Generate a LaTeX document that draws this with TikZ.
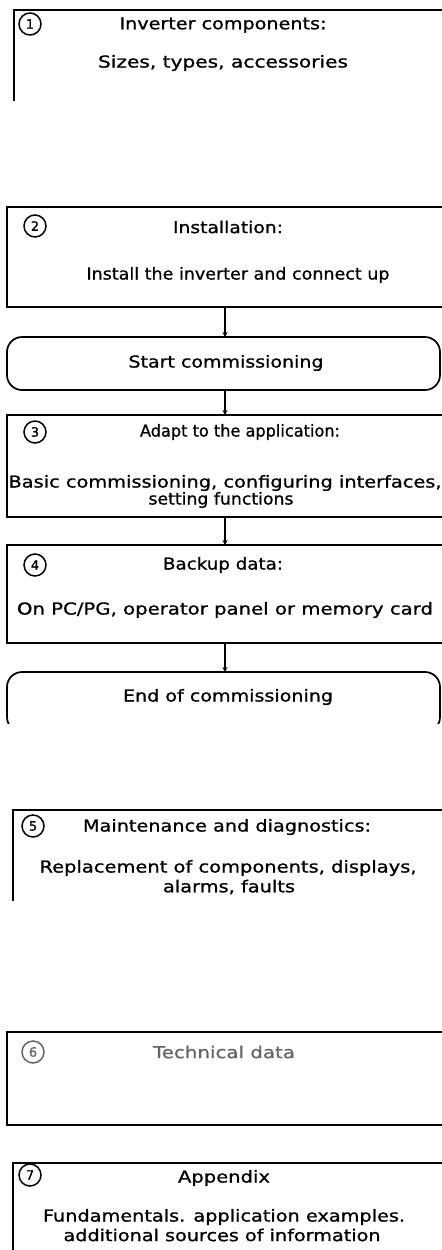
\documentclass[tikz,border=0pt]{standalone}
\usepackage{fontspec}
\setmainfont{DejaVu Sans}[FakeBold=0.9]
\usepackage{graphicx}
\usetikzlibrary{arrows.meta}
% stretch or squeeze a line of text to a given width (in bp), keeping its height
\newcommand\fitw[2]{\resizebox{#1bp}{\height}{#2}}
\begin{document}
\begin{tikzpicture}[x=1bp,y=-1bp,
  frame/.style={draw,line width=1.7bp,inner sep=0pt,outer sep=0pt},
  stepbox/.style={frame,rectangle,minimum width=460bp,anchor=north west},
  terminal/.style={frame,rectangle,rounded corners=15bp,minimum width=433bp,anchor=north west},
  txt/.style={inner sep=0pt,font=\fontsize{16.5}{18}\selectfont},
  num/.style={draw,circle,line width=1.5bp,minimum size=22bp,inner sep=0pt,
    font=\fontsize{13}{13}\selectfont,fill=white},
  flow/.style={line width=1.4bp,-{Stealth[length=5bp,width=5bp]}},
  faded/.style={text=black!60,draw=black!60}]
\useasboundingbox (0,0) rectangle (442,1250);
\clip (0,0) rectangle (442,1250);
% vertical axis of the commissioning flow
\coordinate (axis) at (225,0);

% --- 1: inverter components (frame open below)
\begin{scope}
  \clip (0,0) rectangle (442,100);
  \node[stepbox,minimum height=200bp] (box1) at (14,10) {};
\end{scope}
\node[num] (n1) at (30,24) {1};
\node[txt] (t1a) at (223,25) {\fitw{207}{Inverter components:}};
\node[txt] (t1b) at (223,63) {\fitw{250}{Sizes, types, accessories}};

% --- 2: installation
\node[stepbox,minimum height=100bp] (box2) at (7,207) {};
\node[num] (n2) at (35,226) {2};
\node[txt] (t2a) at (228,227) {\fitw{110}{Installation:}};
\node[txt] (t2b) at (238,275) {\fitw{303}{Install the inverter and connect up}};

% --- start of commissioning
\node[terminal,minimum height=53bp] (start) at (7,337) {};
\node[txt] (ts) at (226,363) {\fitw{195}{Start commissioning}};

% --- 3: adapt to the application
\node[stepbox,minimum height=102bp] (box3) at (7,415) {};
\node[num] (n3) at (35,432) {3};
\node[txt] (t3a) at (240,432) {\fitw{200}{Adapt to the application:}};
\node[txt] (t3b) at (225,483) {\fitw{433}{Basic commissioning, configuring interfaces,}};
\node[txt] (t3c) at (221,500) {\fitw{145}{setting functions}};

% --- 4: backup data
\node[stepbox,minimum height=98bp] (box4) at (7,545) {};
\node[num] (n4) at (35,565) {4};
\node[txt] (t4a) at (223,565) {\fitw{120}{Backup data:}};
\node[txt] (t4b) at (225,610) {\fitw{416}{On PC/PG, operator panel or memory card}};

% --- end of commissioning (cut off below)
\begin{scope}
  \clip (0,0) rectangle (442,723);
  \node[terminal,minimum height=60bp] (finish) at (7,672) {};
\end{scope}
\node[txt] (te) at (228,697) {\fitw{210}{End of commissioning}};

% --- connectors
\draw[flow] (axis |- box2.south) -- (axis |- start.north);
\draw[flow] (axis |- start.south) -- (axis |- box3.north);
\draw[flow] (axis |- box3.south) -- (axis |- box4.north);
\draw[flow] (axis |- box4.south) -- (axis |- finish.north);

% --- 5: maintenance and diagnostics (frame open below)
\begin{scope}
  \clip (0,0) rectangle (442,900);
  \node[stepbox,minimum height=200bp] (box5) at (13,810) {};
\end{scope}
\node[num] (n5) at (33,826) {5};
\node[txt] (t5a) at (227,827) {\fitw{288}{Maintenance and diagnostics:}};
\node[txt] (t5b) at (228,868) {\fitw{377}{Replacement of components, displays,}};
\node[txt] (t5c) at (229,887) {\fitw{132}{alarms, faults}};

% --- 6: technical data
\node[stepbox,minimum height=93bp] (box6) at (7,1032) {};
\node[num,faded] (n6) at (33,1052) {6};
\node[txt,text=black!60] (t6a) at (224,1052) {\fitw{142}{Technical data}};

% --- 7: appendix (frame runs off the bottom)
\node[stepbox,minimum height=200bp] (box7) at (13,1163) {};
\node[num] (n7) at (30,1175) {7};
\node[txt] (t7a) at (224,1178) {\fitw{92}{Appendix}};
\node[txt] (t7b) at (224,1217) {\fitw{362}{Fundamentals. application examples.}};
\node[txt] (t7c) at (222,1235) {\fitw{317}{additional sources of information}};
\end{tikzpicture}
\end{document}
